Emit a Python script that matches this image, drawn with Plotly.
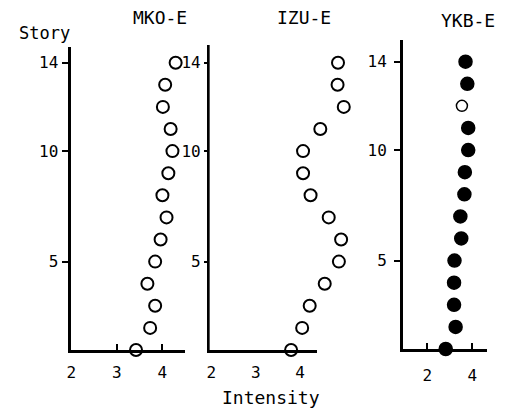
import plotly.graph_objects as go

W, H = 507, 411

stories = list(range(14, 0, -1))  # 14 .. 1

mko_e = [4.29, 4.06, 4.01, 4.18, 4.22, 4.13, 4.00, 4.09, 3.96, 3.84, 3.67, 3.84, 3.73, 3.42]
izu_e = [4.86, 4.85, 4.99, 4.46, 4.07, 4.07, 4.24, 4.65, 4.93, 4.88, 4.56, 4.22, 4.05, 3.80]
ykb_e = [3.70, 3.78, 3.54, 3.82, 3.82, 3.67, 3.65, 3.47, 3.51, 3.21, 3.19, 3.19, 3.26, 2.82]
ykb_open = [False, False, True, False, False, False, False, False, False, False, False, False, False, False]

panel_titles = ["MKO-E", "IZU-E", "YKB-E"]
x_ticks = [[2, 3, 4], [2, 3, 4], [2, 4]]
y_ticks = [5, 10, 14]

FONT = "DejaVu Sans Mono"

def px_x(a, b):
    return [a / W, b / W]

def px_y(top, bottom):
    return [(H - bottom) / H, (H - top) / H]

fig = go.Figure()

fig.add_trace(go.Scatter(
    x=mko_e, y=stories, mode="markers", xaxis="x", yaxis="y", cliponaxis=False,
    marker=dict(symbol="circle-open", size=12, color="black", opacity=1,
                line=dict(width=2, color="black")),
    showlegend=False))
# empty trace so the visible panel-2 axes form a subplot
fig.add_trace(go.Scatter(x=[], y=[], mode="markers", xaxis="x2", yaxis="y2",
                         showlegend=False, hoverinfo="skip"))
# panel 2 markers on a hidden, wider x axis with the same scale as the visible one
fig.add_trace(go.Scatter(
    x=izu_e, y=stories, mode="markers", xaxis="x4", yaxis="y2", cliponaxis=False,
    marker=dict(symbol="circle-open", size=12, color="black", opacity=1,
                line=dict(width=2, color="black")),
    showlegend=False))
sym = ["circle-open" if o else "circle" for o in ykb_open]
sz = [11 if o else 13 for o in ykb_open]
fig.add_trace(go.Scatter(
    x=ykb_e, y=stories, mode="markers", xaxis="x3", yaxis="y3", cliponaxis=False,
    marker=dict(symbol=sym, size=sz, color="#000000", opacity=1,
                line=dict(width=1.5, color="#000000")),
    showlegend=False))

axis_common = dict(showgrid=False, zeroline=False, linecolor="black",
                   linewidth=2.5, mirror=False, tickcolor="black", tickwidth=1.5,
                   tickfont=dict(family=FONT, size=16, color="black"))

x2_left, x2_axis_end, x2_right = 1.96, 4.38, 5.2
p2_left_px = 206.7
p2_scale = 44.7
p2_axis_px = p2_left_px + (x2_axis_end - x2_left) * p2_scale
p2_right_px = p2_left_px + (x2_right - x2_left) * p2_scale

fig.update_layout(
    xaxis=dict(domain=px_x(67, 182), range=[2, 4.5], tickvals=x_ticks[0], ticks="inside",
               ticklen=6, anchor="y", ticklabelstandoff=6, showline=True, **axis_common),
    xaxis2=dict(domain=px_x(p2_left_px, p2_axis_px), range=[x2_left, x2_axis_end],
                tickvals=x_ticks[1], ticks="inside", ticklen=6, anchor="y2",
                ticklabelstandoff=6, showline=True, **axis_common),
    xaxis4=dict(domain=px_x(p2_left_px, p2_right_px), range=[x2_left, x2_right],
                anchor="y2", visible=False, showgrid=False, zeroline=False),
    xaxis3=dict(domain=px_x(401.7, 486.7), range=[0.91, 4.65], tickvals=x_ticks[2], ticks="inside",
                ticklen=6, anchor="y3", ticklabelstandoff=10, showline=True, **axis_common),
    yaxis=dict(domain=px_y(47, 350), range=[1, 14.71], tickvals=y_ticks, ticks="outside",
               ticklen=7, anchor="x", showline=True, **axis_common),
    yaxis2=dict(domain=px_y(45, 350), range=[1, 14.8], tickvals=y_ticks, ticks="outside",
                ticklen=3, anchor="x2", showline=True, **axis_common),
    yaxis3=dict(domain=px_y(40, 349), range=[1, 14.98], tickvals=y_ticks, ticks="outside",
                ticklen=6, anchor="x3", ticklabelstandoff=4, showline=True, **axis_common),
)

annotations = []
title_pos = [(157, 18), (302, 18), (468, 20)]
for t, (x, y) in zip(panel_titles, title_pos):
    annotations.append(dict(text=t, x=x / W, y=(H - y) / H, xref="paper", yref="paper",
                            showarrow=False, xanchor="center", yanchor="middle",
                            font=dict(family=FONT, size=18, color="black")))
annotations.append(dict(text="Story", x=40 / W, y=(H - 33) / H, xref="paper", yref="paper",
                        showarrow=False, xanchor="center", yanchor="middle",
                        font=dict(family=FONT, size=17, color="black")))
annotations.append(dict(text="Intensity", x=269 / W, y=(H - 397) / H, xref="paper", yref="paper",
                        showarrow=False, xanchor="center", yanchor="middle",
                        font=dict(family=FONT, size=18, color="black")))

fig.update_layout(
    width=W, height=H, margin=dict(l=0, r=0, t=0, b=0),
    paper_bgcolor="white", plot_bgcolor="white",
    annotations=annotations,
)

fig.write_html("out.html", config={"displayModeBar": False},
               post_script="document.body.style.margin='0';document.body.style.padding='0';")
